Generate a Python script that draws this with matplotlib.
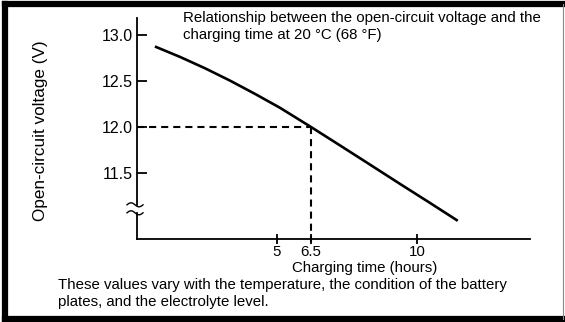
"""Open-circuit voltage vs. charging time chart."""

import numpy as np
import matplotlib
matplotlib.use('Agg')
import matplotlib.pyplot as plt
import matplotlib.transforms as mtransforms
from matplotlib.lines import Line2D

plt.rcParams['font.family'] = ['Liberation Sans', 'DejaVu Sans']

# curve read as (hours, volts)
hours = [0.64, 1.54, 2.43, 3.32, 4.21, 5.14, 6.5, 7.46, 8.45, 9.44, 10.46, 11.46]
volts = [12.875, 12.761, 12.638, 12.504, 12.360, 12.207, 12.0, 11.799, 11.59, 11.38, 11.174, 10.978]

x_ticks = [5, 6.5, 10]
y_ticks = [11.5, 12.0, 12.5, 13.0]
mark_hours = 6.5
mark_volts = 12.0

title = 'Relationship between the open-circuit voltage and the\ncharging time at 20 \u00b0C (68 \u00b0F)'
note = ('These values vary with the temperature, the condition of the battery\n'
        'plates, and the electrolyte level.')

# the time axis is drawn schematically: 6.5 h sits a little left of true scale
_anchor_h = np.array([0, 5, 6.5, 10, 20])
_anchor_p = np.array([0, 5, 6.21, 10, 20])


def fwd(h):
    return np.interp(h, _anchor_h, _anchor_p)


def inv(p):
    return np.interp(p, _anchor_p, _anchor_h)


FS = 10.8
fig = plt.figure(figsize=(5.65, 3.22), dpi=100)
ax = fig.add_axes([137 / 565, 1 - 239 / 322, 393 / 565, 221 / 322])
ax.set_xscale('function', functions=(fwd, inv))
ax.set_xlim(0, 14.04)
ax.set_ylim(10.78, 13.185)

ax.plot(hours, volts, color='black', lw=1.9, solid_capstyle='butt')

# dashed guide to the 12.0 V point
ax.plot([0, mark_hours], [mark_volts, mark_volts], color='black', lw=1.5,
        dashes=(3.4, 2.4))
ax.plot([mark_hours, mark_hours], [mark_volts, 10.745], color='black', lw=1.5,
        dashes=(3.4, 2.4), clip_on=False)

for s in ['top', 'right']:
    ax.spines[s].set_visible(False)
for s in ['left', 'bottom']:
    ax.spines[s].set_linewidth(1.3)

# axis break on the voltage axis
brk_hi, brk_lo = 11.152, 11.065
ax.spines['left'].set_bounds(brk_hi, 13.185)
ax.plot([0, 0], [10.78, brk_lo], color='black', lw=1.3, clip_on=False,
        solid_capstyle='projecting')
blend = mtransforms.blended_transform_factory(ax.transAxes, ax.transData)
t = np.linspace(0, 1, 40)
for yb in (brk_hi, brk_lo):
    xs = (-10 + 16 * t) / 393
    ys = yb + (2.0 / 92) * np.sin(2 * np.pi * t)
    ax.plot(xs, ys, color='black', lw=1.0, transform=blend, clip_on=False)

ax.set_xticks(x_ticks)
ax.set_xticklabels(['5', '6.5', '10'])
ax.set_yticks(y_ticks)
ax.set_yticklabels([f'{v:.1f}' for v in y_ticks])
ax.xaxis.set_minor_locator(matplotlib.ticker.NullLocator())
ax.tick_params(axis='y', direction='in', length=7, width=1.3, pad=3,
               labelsize=11.5, colors='black')
ax.tick_params(axis='x', direction='inout', length=7, width=1.3, pad=1,
               labelsize=FS, colors='black')

fig.text(183 / 565, 1 - 11 / 322, title, ha='left', va='top', fontsize=FS,
         linespacing=1.3)
fig.text(41 / 565, 1 - 131 / 322, 'Open-circuit voltage (V)', rotation=90,
         ha='center', va='center', fontsize=12.3)
fig.text(365 / 565, 1 - 268 / 322, 'Charging time (hours)', ha='center',
         va='center', fontsize=FS)
fig.text(58 / 565, 1 - 278 / 322, note, ha='left', va='top', fontsize=FS,
         linespacing=1.3)

# frame round the whole figure
frame = dict(color='black', lw=4.5, transform=fig.transFigure, solid_capstyle='projecting')
fig.add_artist(Line2D([5 / 565, 5 / 565], [3 / 322, 1 - 4 / 322], **frame))
fig.add_artist(Line2D([5 / 565, 563 / 565], [1 - 4 / 322, 1 - 4 / 322], **frame))
fig.add_artist(Line2D([5 / 565, 563 / 565], [3 / 322, 3 / 322], **frame))
fig.add_artist(Line2D([563 / 565, 563 / 565], [3 / 322, 1 - 4 / 322], color='#888888',
                      lw=0.8, transform=fig.transFigure))

fig.savefig('out.png', dpi=100)
